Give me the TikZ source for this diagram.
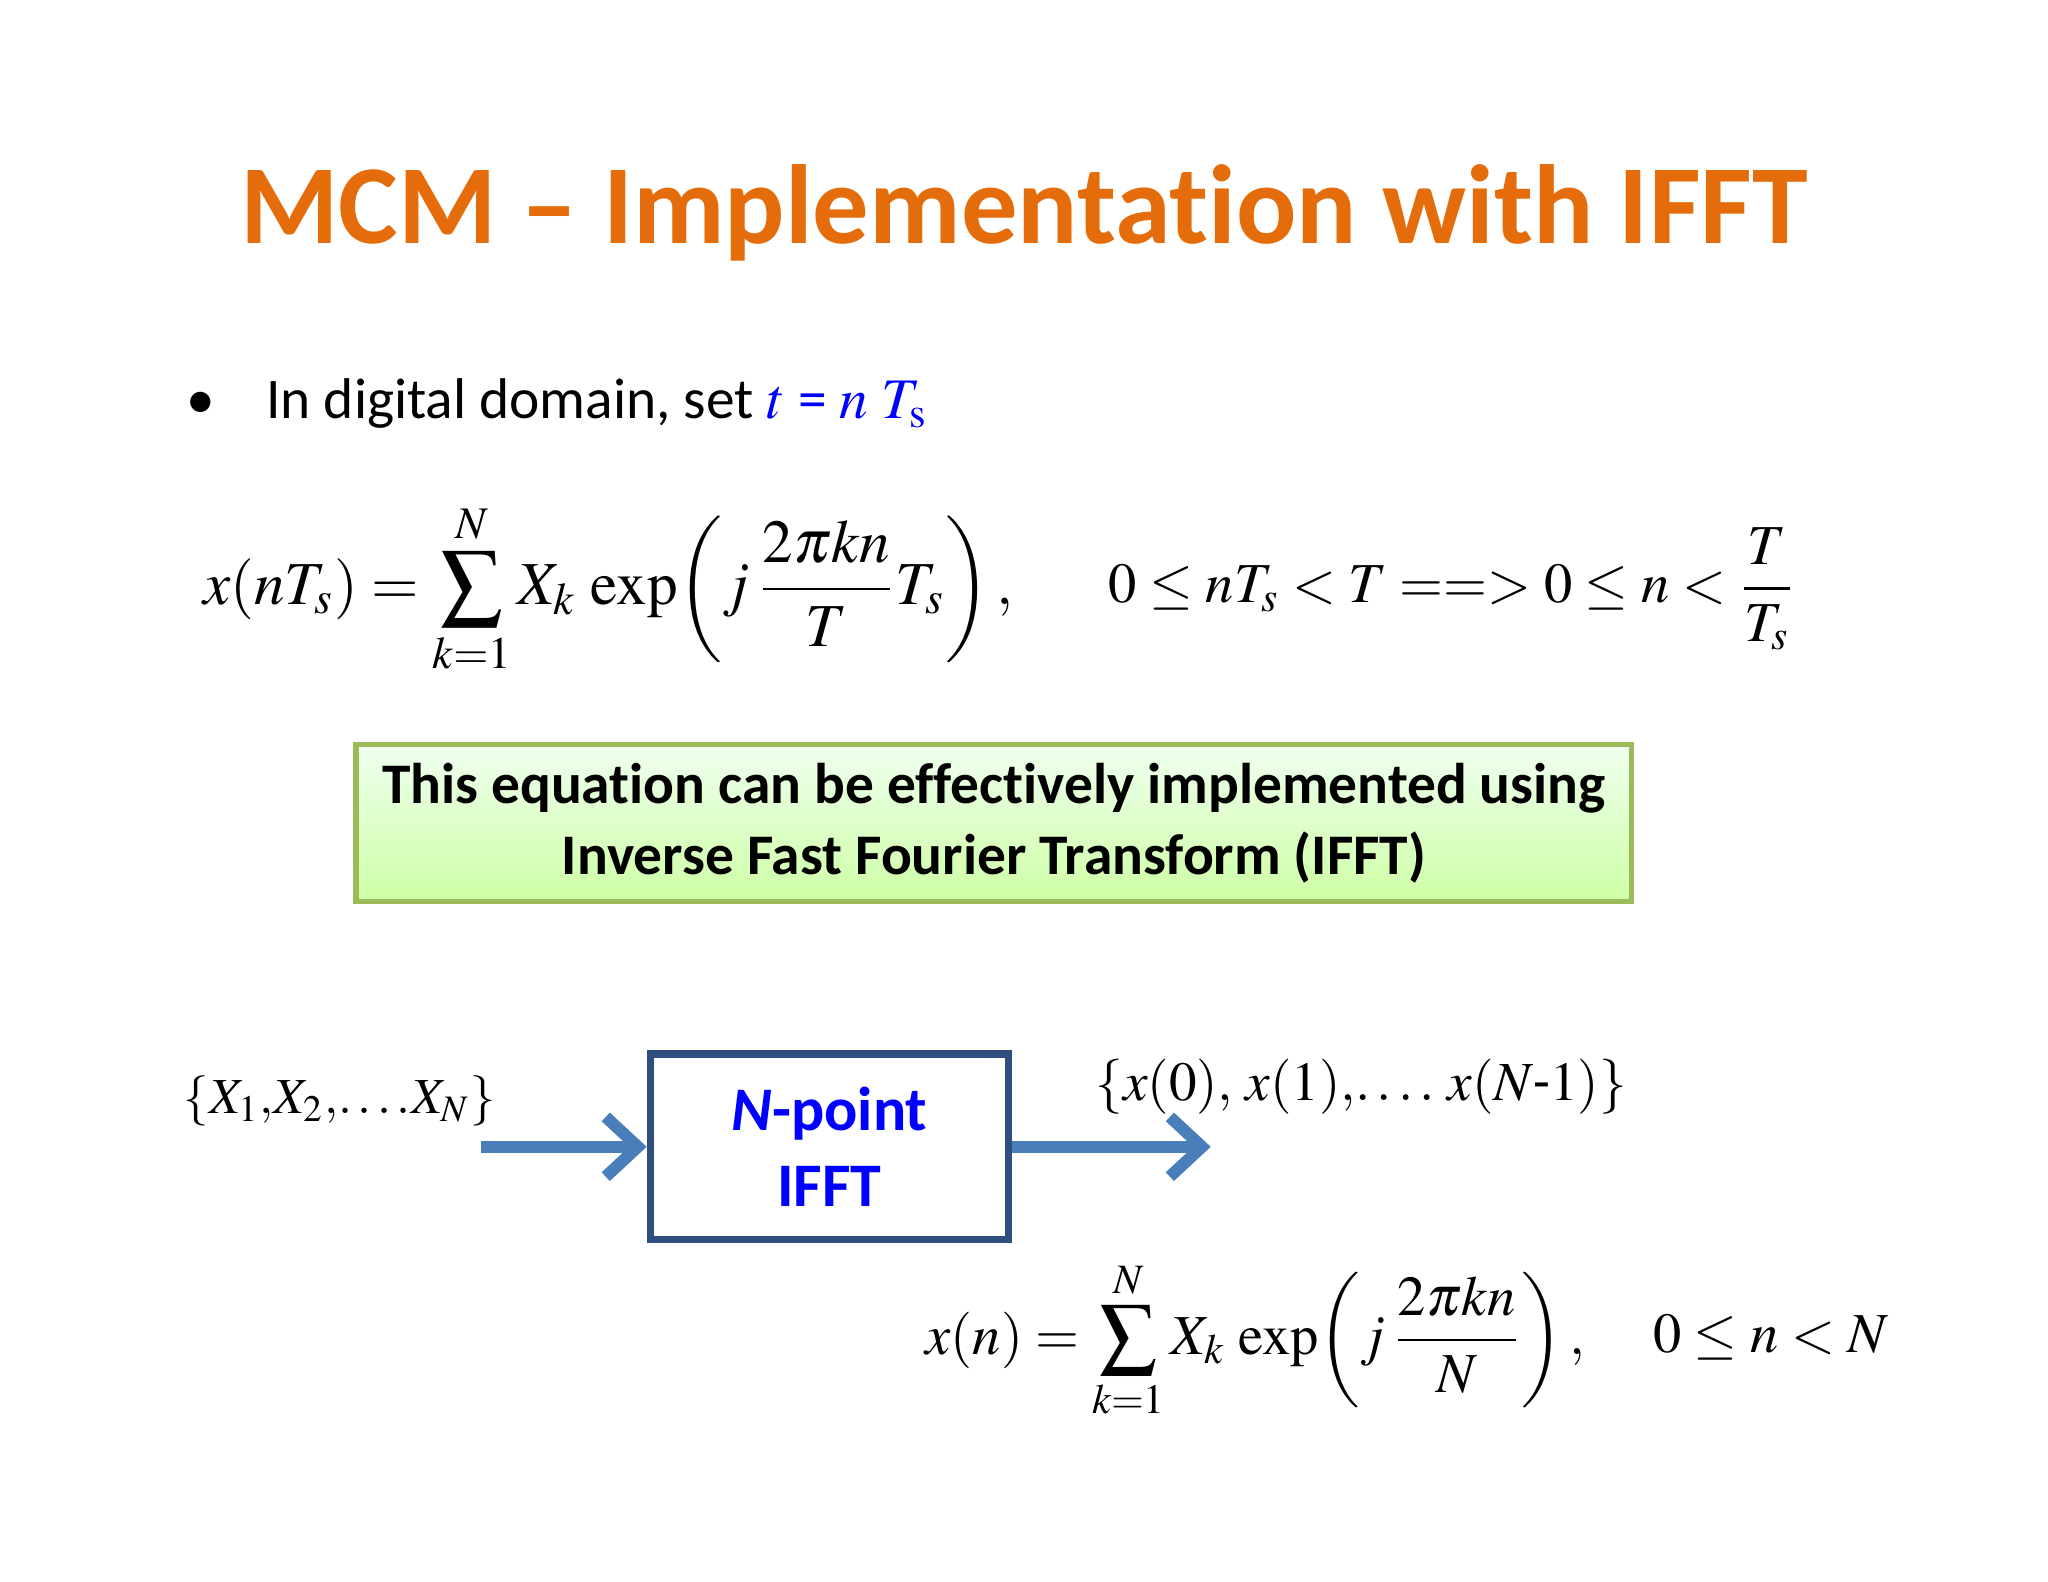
\documentclass[tikz,border=0pt]{standalone}
\usepackage{amsmath}
\usepackage{mathptmx}
\usepackage[no-math]{fontspec}
\setmainfont[RawFeature=-liga]{Carlito}
\usetikzlibrary{arrows.meta}
\definecolor{ttl}{HTML}{E46C0A}
\definecolor{arr}{HTML}{4A7EBB}
\definecolor{bxb}{HTML}{2F4F7F}
\definecolor{gb}{HTML}{9BBB59}
\tikzset{
 eq/.style={inner sep=0pt,font=\fontsize{12.3}{15}\selectfont},
 conn/.style={draw=arr,line width=2.6pt,-{Straight Barb[length=7pt,width=13pt,line width=2.6pt]}}
}
\begin{document}
\begin{tikzpicture}[x=0.01cm,y=-0.01cm]
\useasboundingbox (0,0) rectangle (1568,1211);
\node[text=ttl,font=\fontsize{24.5}{28}\selectfont\bfseries] (title) at (784,163) {MCM – Implementation with IFFT};
\node[anchor=west,font=\fontsize{12.5}{15}\selectfont] (bul) at (130,309) {•\hspace{0.9em}In digital domain, set \textcolor{blue}{$t$ = $n$ $T_{\mathrm{s}}$}};
\node[eq,anchor=west,font=\fontsize{13.3}{16}\selectfont] (eq1) at (155,451) {$x(nT_s)=\displaystyle\sum_{k=1}^{N}X_k\,\exp\!\left(j\,\frac{2\pi kn}{T}T_s\right),$};
\node[eq,anchor=west] (eq2) at (848,451) {$0\le nT_s<T \;{=}{=}{>}\; 0\le n<\dfrac{T}{T_s}$};
\node[draw=gb,line width=1.2pt,top color=white!20!green!8,bottom color=yellow!45!green!35,minimum width=9.76cm,minimum height=1.2cm,align=center,font=\fontsize{12.5}{15.5}\selectfont\bfseries] (gbox) at (761,630) {This equation can be effectively implemented using\\Inverse Fast Fourier Transform (IFFT)};
\node[draw=bxb,line width=1.6pt,minimum width=2.74cm,minimum height=1.42cm,align=center,text=blue,font=\fontsize{13.5}{16.5}\selectfont\bfseries] (ifft) at (635,878) {\textit{N}-point\\IFFT};
\node[eq,anchor=west,font=\fontsize{11}{13}\selectfont] (in) at (140,843) {$\{X_1{,}X_2{,}\!\ldots{.}X_N\}$};
\node[eq,anchor=west,font=\fontsize{12}{14}\selectfont] (out) at (838,832) {$\{x(0),\,x(1),\!\ldots.\;x(N\text{-}1)\}$};
\coordinate (a0) at (368,878);
\coordinate (b1) at (927,878);
\draw[conn] (a0) -- (ifft.west);
\draw[conn] (ifft.east) -- (b1);
\node[eq,anchor=west] (eq3) at (708,1026) {$x(n)=\displaystyle\sum_{k=1}^{N}X_k\,\exp\!\left(j\,\frac{2\pi kn}{N}\right),$};
\node[eq,anchor=west] (eq4) at (1265,1024) {$0\le n<N$};
\end{tikzpicture}
\end{document}
